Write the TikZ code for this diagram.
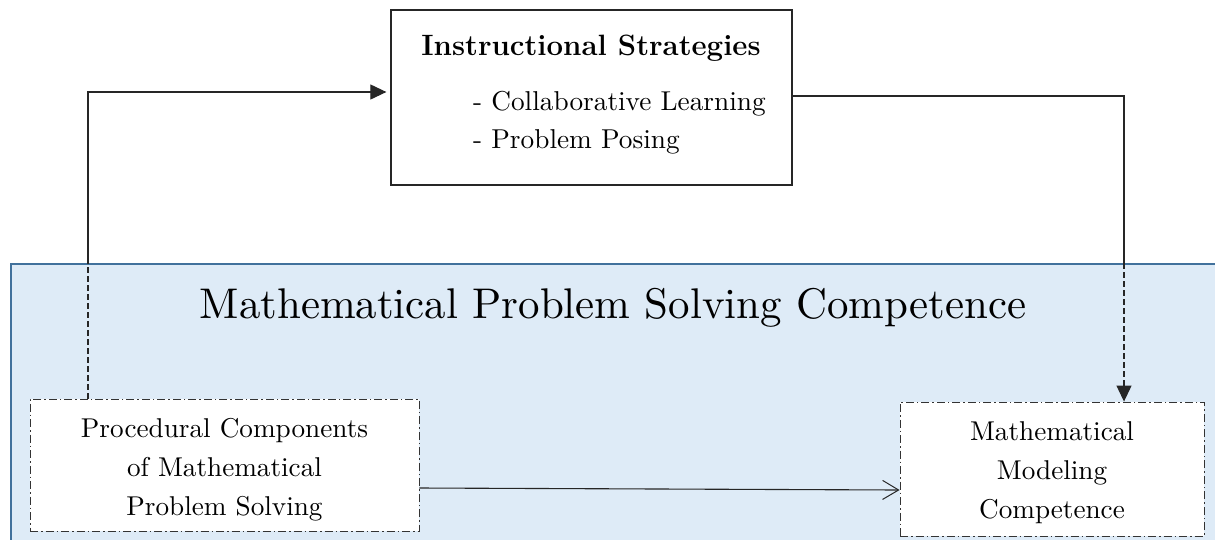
\documentclass[tikz,border=0pt]{standalone}
\usepackage{fontspec}
\newfontfamily\lmten{lmroman10-regular.otf}
\usetikzlibrary{arrows.meta,calc}
\definecolor{panelfill}{HTML}{DEEBF7}
\definecolor{panelline}{HTML}{41719C}
\begin{document}
\begin{tikzpicture}[x=1pt,y=-1pt,
  panel/.style={draw=panelline, line width=2.4pt, fill=panelfill, inner sep=0pt},
  stratbox/.style={draw=black!85, line width=1.3pt, fill=white, inner sep=0pt},
  compbox/.style={draw=black!80, line width=0.9pt,
    dash pattern=on 8pt off 3pt on 1.5pt off 3pt, fill=white, inner sep=0pt},
  comptext/.style={align=center, anchor=base, inner sep=0pt,
    font=\lmten\fontsize{27.2}{39}\selectfont},
  bullet/.style={anchor=base west, inner sep=0pt, font=\lmten\fontsize{27.3}{34}\selectfont},
  link/.style={line width=1.1pt, black!85},
  dashlink/.style={link, dash pattern=on 6pt off 3pt},
  solidhead/.style={-{Triangle[length=16pt,width=15pt]}},
  openhead/.style={-{Straight Barb[length=16pt,width=19pt,line width=1pt]}}
]
\useasboundingbox (0,0) rectangle (1215,539);
\fill[white] (0,0) rectangle (1215,539);

% blue competence panel
\node[panel, anchor=north west, minimum width=1215pt, minimum height=280pt] (panel) at (10,263) {};
\node[font=\lmten\fontsize{42.9}{50}\selectfont, anchor=base, inner sep=0pt] (paneltitle) at (613,318)
  {Mathematical Problem Solving Competence};

% instructional strategies box
\node[stratbox, minimum width=401pt, minimum height=175pt] (strat) at (591.5,97.5) {};
\node[font=\fontsize{29.4}{36}\selectfont\bfseries, anchor=base, inner sep=0pt] (strattitle) at (591,55)
  {Instructional Strategies};
\node[bullet] (s1) at (473,110) {- Collaborative Learning};
\node[bullet] (s2) at (473,148) {- Problem Posing};

% component boxes
\node[compbox, minimum width=389pt, minimum height=132pt] (proc) at (224.5,465) {};
\node[comptext] (proctext) at (224.5,515) {Procedural Components\\of Mathematical\\Problem Solving};
\node[compbox, minimum width=304pt, minimum height=134pt] (model) at (1052,469) {};
\node[comptext] (modeltext) at (1052,518) {Mathematical\\Modeling\\Competence};

% connectors
\coordinate (lk) at (88,92);
\coordinate (rk) at (1124,96);
\draw[dashlink] (proc.north -| lk) -- (panel.north -| lk);
\draw[link, solidhead] (panel.north -| lk) -- (lk) -- ([xshift=-4pt]lk -| strat.west);
\draw[link] (strat.east |- rk) -- (rk) -- (rk |- panel.north);
\draw[dashlink, solidhead] (rk |- panel.north) -- (rk |- model.north);
\draw[link, openhead] ($(proc.east)+(0,23)$) -- ($(model.west)+(0,21)$);
\end{tikzpicture}
\end{document}
